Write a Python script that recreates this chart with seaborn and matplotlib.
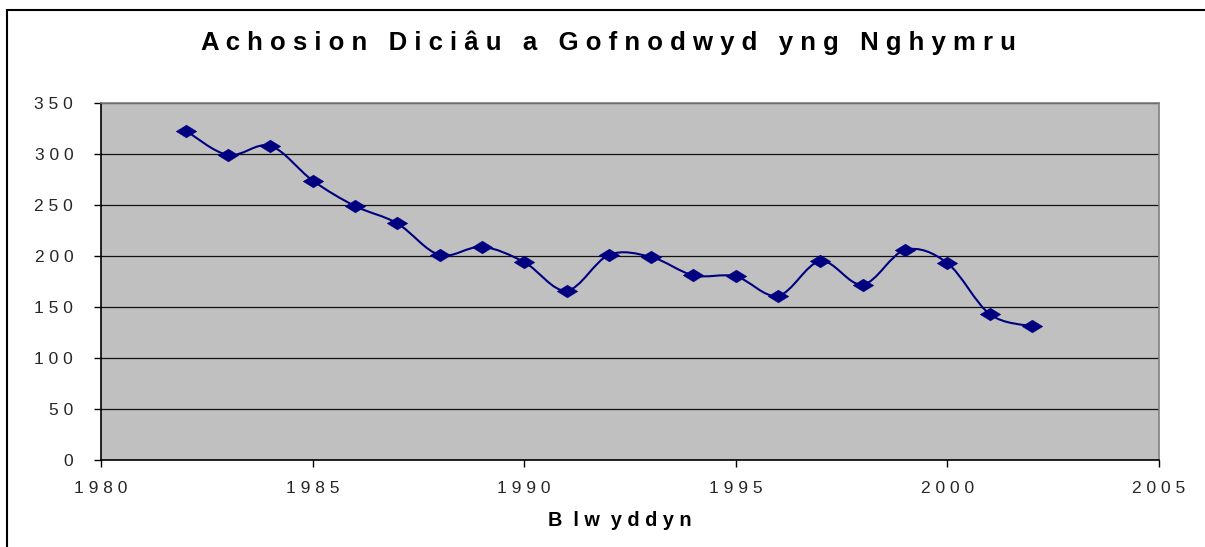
import numpy as np
import pandas as pd
import matplotlib
matplotlib.use("Agg")
import matplotlib.pyplot as plt
import seaborn as sns
from matplotlib.path import Path
from matplotlib.patches import PathPatch, Rectangle

years = [1982, 1983, 1984, 1985, 1986, 1987, 1988, 1989, 1990, 1991, 1992,
         1993, 1994, 1995, 1996, 1997, 1998, 1999, 2000, 2001, 2002]
cases = [323, 299, 308, 274, 249, 232, 201, 209, 194, 166, 201,
         199, 181, 180, 161, 195, 172, 206, 193, 143, 131]
x_ticks = [1980, 1985, 1990, 1995, 2000, 2005]
y_ticks = [0, 50, 100, 150, 200, 250, 300, 350]
title = "Achosion Diciâu a Gofnodwyd yng Nghymru"
xlabel = "Blwyddyn"

def spaced(s, word_gap="   "):
    return word_gap.join(" ".join(w) for w in s.split(" "))

df = pd.DataFrame({"year": years, "cases": cases})

sns.set_theme(style="white")
plt.rcParams["font.family"] = ["Liberation Sans", "DejaVu Sans"]

fig = plt.figure(figsize=(12.05, 5.47), dpi=100)
ax = fig.add_axes([101/1205, 87/547, (1159-101)/1205, (460-103)/547])
ax.set_facecolor("#C0C0C0")
navy = "#000080"

# smooth line (Bezier through the data points, like Excel's smoothed line)
pts = np.column_stack([df["year"].to_numpy(float), df["cases"].to_numpy(float)])
verts = [tuple(pts[0])]
codes = [Path.MOVETO]
n = len(pts)
for i in range(n - 1):
    p0 = pts[i - 1] if i > 0 else pts[i]
    p1 = pts[i]
    p2 = pts[i + 1]
    p3 = pts[i + 2] if i + 2 < n else pts[i + 1]
    c1 = p1 + (p2 - p0) / 6.0
    c2 = p2 - (p3 - p1) / 6.0
    verts += [tuple(c1), tuple(c2), tuple(p2)]
    codes += [Path.CURVE4] * 3
ax.add_patch(PathPatch(Path(verts, codes), facecolor="none", edgecolor=navy,
                       lw=1.5, zorder=3))

wide_diamond = [(-1, 0), (0, 0.62), (1, 0), (0, -0.62), (-1, 0)]
sns.scatterplot(data=df, x="year", y="cases", marker=wide_diamond, s=220,
                color=navy, edgecolor=navy, linewidth=0.3, ax=ax, zorder=4,
                legend=False)

ax.set_xlim(1980, 2005)
ax.set_ylim(0, 350)
ax.set_xticks(x_ticks)
ax.set_yticks(y_ticks)
ax.set_xticklabels([" ".join(str(t)) for t in x_ticks], fontsize=12.5)
ax.set_yticklabels([" ".join(str(t)) for t in y_ticks], fontsize=12.5)
ax.tick_params(axis="both", direction="out", length=5, width=1, color="black",
               bottom=True, left=True)
ax.tick_params(axis="x", pad=10)
ax.tick_params(axis="y", pad=15)
ax.yaxis.grid(True, color="#111111", lw=0.9)
ax.set_axisbelow(True)
ax.set_xlabel("")
ax.set_ylabel("")
for side in ["left", "bottom"]:
    ax.spines[side].set_color("black")
    ax.spines[side].set_linewidth(1.2)
for side in ["top", "right"]:
    ax.spines[side].set_color("#808080")
    ax.spines[side].set_linewidth(1.2)

fig.text(608/1205, 1 - 43/547, spaced(title), ha="center", va="center",
         fontsize=18.5, fontweight="bold", color="black")
fig.text(620/1205, 1 - 521/547, "B  l w  y d d y n", ha="center", va="center",
         fontsize=14.3, fontweight="bold", color="black")

fig.add_artist(Rectangle((7/1205, -0.1), 1.2, 1 - 10/547 + 0.1,
                         transform=fig.transFigure, fill=False,
                         edgecolor="black", lw=1.5))

fig.savefig("out.png", dpi=100, facecolor="white")
